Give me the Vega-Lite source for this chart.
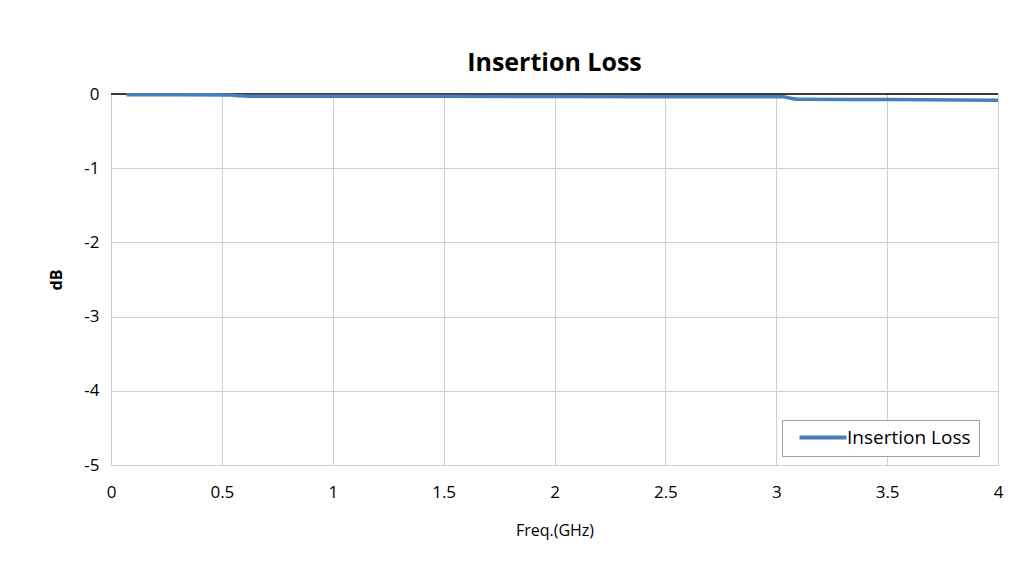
{
  "$schema": "https://vega.github.io/schema/vega-lite/v6.json",
  "width": 887,
  "height": 371,
  "autosize": {"type": "none"},
  "padding": {"left": 111, "top": 94, "right": 26, "bottom": 102},
  "background": "white",
  "config": {
    "view": {"stroke": "#a0a0a0", "strokeWidth": 1},
    "font": "Open Sans"
  },
  "title": {
    "text": "Insertion Loss",
    "fontSize": 25,
    "fontWeight": "bold",
    "font": "Open Sans",
    "color": "#000000",
    "offset": 9,
    "anchor": "middle"
  },
  "data": {
    "values": [
      {"freq": 0.07, "loss": -0.01, "series": "Insertion Loss"},
      {"freq": 0.3, "loss": -0.01, "series": "Insertion Loss"},
      {"freq": 0.54, "loss": -0.012, "series": "Insertion Loss"},
      {"freq": 0.58, "loss": -0.025, "series": "Insertion Loss"},
      {"freq": 0.62, "loss": -0.03, "series": "Insertion Loss"},
      {"freq": 1.5, "loss": -0.032, "series": "Insertion Loss"},
      {"freq": 2.5, "loss": -0.036, "series": "Insertion Loss"},
      {"freq": 3.03, "loss": -0.038, "series": "Insertion Loss"},
      {"freq": 3.06, "loss": -0.055, "series": "Insertion Loss"},
      {"freq": 3.1, "loss": -0.072, "series": "Insertion Loss"},
      {"freq": 3.5, "loss": -0.075, "series": "Insertion Loss"},
      {"freq": 4.0, "loss": -0.085, "series": "Insertion Loss"}
    ]
  },
  "layer": [
    {
      "mark": {"type": "rule", "color": "#000000", "strokeWidth": 1.5},
      "data": {"values": [{"y": 0}]},
      "encoding": {
        "y": {"field": "y", "type": "quantitative", "scale": {"domain": [-5, 0]}}
      }
    },
    {
      "mark": {"type": "line", "strokeWidth": 3.5, "interpolate": "monotone"},
      "encoding": {
        "x": {
          "field": "freq",
          "type": "quantitative",
          "scale": {"domain": [0, 4], "nice": false},
          "axis": {
            "title": "Freq.(GHz)",
            "titleFontSize": 16,
            "titleFontWeight": "normal",
            "titleColor": "#000000",
            "titlePadding": 22,
            "values": [0, 0.5, 1, 1.5, 2, 2.5, 3, 3.5, 4],
            "labelExpr": "datum.value + ''",
            "labelFontSize": 17,
            "labelColor": "#000000",
            "labelPadding": 19,
            "ticks": false,
            "domain": false,
            "grid": true,
            "gridColor": "#d0d0d0",
            "labelFlush": false
          }
        },
        "y": {
          "field": "loss",
          "type": "quantitative",
          "scale": {"domain": [-5, 0], "nice": false},
          "axis": {
            "title": "dB",
            "titleFontSize": 16,
            "titleFontWeight": "bold",
            "titleColor": "#000000",
            "titlePadding": 19,
            "values": [-5, -4, -3, -2, -1, 0],
            "labelExpr": "datum.value + ''",
            "labelFontSize": 17,
            "labelColor": "#000000",
            "labelPadding": 12,
            "ticks": false,
            "domain": false,
            "grid": true,
            "gridColor": "#d0d0d0"
          }
        },
        "color": {
          "field": "series",
          "type": "nominal",
          "scale": {"range": ["#4a7ebb"]},
          "legend": {
            "title": null,
            "orient": "none",
            "legendX": 671,
            "legendY": 326,
            "symbolType": "M0,0H8",
            "symbolSize": 138,
            "symbolStrokeWidth": 4,
            "labelFontSize": 19,
            "labelColor": "#000000",
            "labelOffset": 38,
            "strokeColor": "#a0a0a0",
            "fillColor": "white",
            "padding": 8
          }
        }
      }
    }
  ]
}
